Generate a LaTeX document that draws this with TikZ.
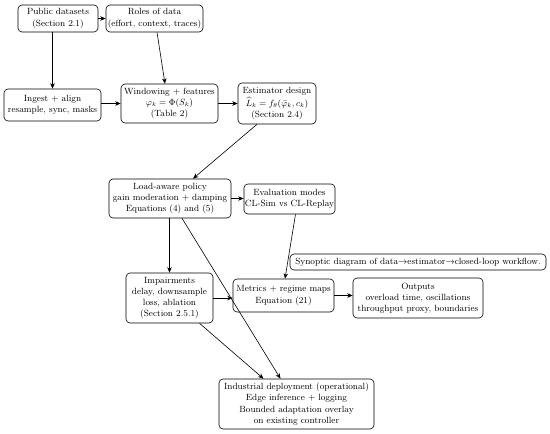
\documentclass[tikz,border=0pt]{standalone}
\usetikzlibrary{arrows.meta,calc}
\begin{document}
\begin{tikzpicture}[x=1pt,y=-1pt,
  box/.style={draw,rounded corners=4pt,line width=0.6pt,align=center,inner sep=1pt,font=\fontsize{9}{11.2}\selectfont},
  arr/.style={line width=0.6pt,-{Stealth[length=5.5pt,width=4.5pt]}}]
\useasboundingbox (0,0) rectangle (550,434);
\node[box,minimum width=80pt,minimum height=27pt] (pub) at (58,18.5) {Public datasets\\(Section 2.1)};
\node[box,minimum width=97pt,minimum height=27pt] (roles) at (154.5,18.5) {Roles of data\\(effort, context, traces)};
\node[box,minimum width=97pt,minimum height=32pt] (ingest) at (52.5,105) {Ingest + align\\resample, sync, masks};
\node[box,minimum width=97pt,minimum height=39pt] (win) at (169.5,103.5) {Windowing + features\\$\varphi_k=\Phi(S_k)$\\(Table 2)};
\node[box,minimum width=78pt,minimum height=41pt] (est) at (277,103.5) {Estimator design\\[1pt]$\widehat{L}_k=f_\theta(\bar{\varphi}_k,c_k)$\\(Section 2.4)};
\node[box,minimum width=122pt,minimum height=39pt] (load) at (170,198.5) {Load-aware policy\\gain moderation + damping\\Equations (4) and (5)};
\node[box,minimum width=81pt,minimum height=30pt] (eval) at (289.5,199) {Evaluation modes\\CL-Sim vs CL-Replay};
\node[box,minimum width=256pt,minimum height=16pt] (cap) at (418,262) {Synoptic diagram of data$\rightarrow$estimator$\rightarrow$closed-loop workflow.};
\node[box,minimum width=87pt,minimum height=50pt] (imp) at (169.5,298) {Impairments\\delay, downsample\\loss, ablation\\(Section 2.5.1)};
\node[box,minimum width=101pt,minimum height=33pt] (met) at (283.5,295.5) {Metrics + regime maps\\Equation (21)};
\node[box,minimum width=130pt,minimum height=40pt] (out) at (418,298) {Outputs\\overload time, oscillations\\throughput proxy, boundaries};
\node[box,minimum width=155pt,minimum height=50pt] (ind) at (296.5,404) {Industrial deployment (operational)\\Edge inference + logging\\Bounded adaptation overlay\\on existing controller};
\draw[arr] (pub.east) -- (roles.west);
\draw[arr] (pub.south -| ingest.north) -- (ingest.north);
\draw[arr] ([xshift=2.5pt]roles.south) -- ([xshift=-4.5pt]win.north);
\draw[arr] (win.west -| ingest.east) -- (win.west);
\draw[arr] (win.east) -- (est.west);
\draw[arr] ([xshift=-20pt]est.south) -- ([xshift=23pt]load.north);
\draw[arr] (load.east) -- (load.east -| eval.west);
\draw[arr] (load.south -| imp.north) -- (imp.north);
\draw[arr] ([xshift=12pt]load.south) -- ([xshift=-16pt]ind.north);
\draw[arr] (imp.east) -- (imp.east -| met.west);
\draw[arr] ([xshift=6pt]eval.south) -- ([xshift=1.5pt]met.north);
\draw[arr] (met.east) -- (met.east -| out.west);
\draw[arr] ([xshift=30pt]imp.south) -- ([xshift=-33pt]ind.north);
\end{tikzpicture}
\end{document}
